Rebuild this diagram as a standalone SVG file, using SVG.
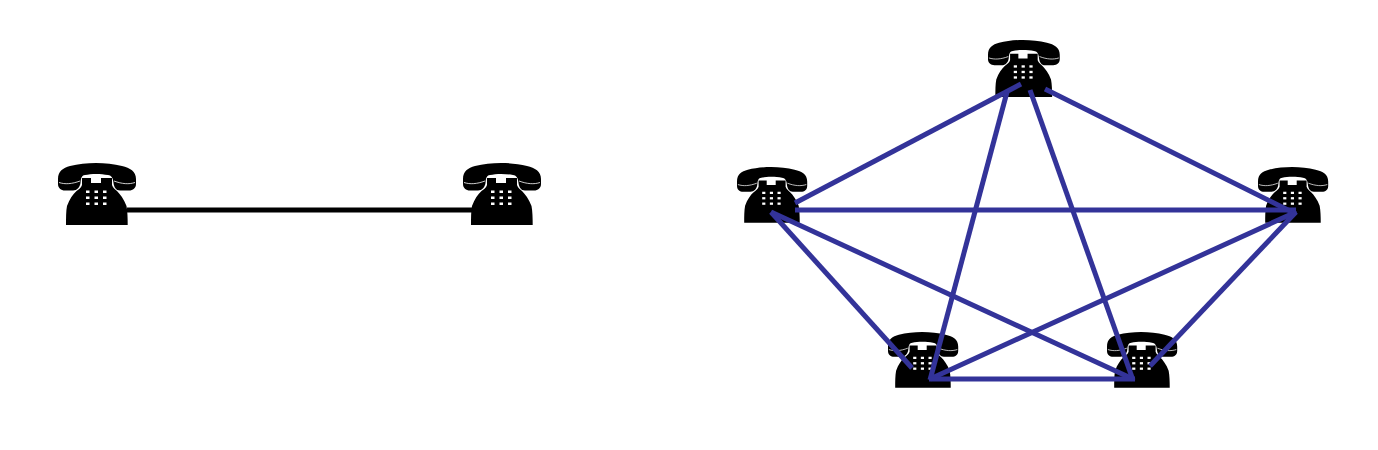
<svg xmlns="http://www.w3.org/2000/svg" xmlns:xlink="http://www.w3.org/1999/xlink" width="1378" height="450" viewBox="0 0 1378 450">
<style>
.k{fill:#000}
.w{fill:#fff}
.s{fill:none;stroke:#fff;stroke-width:.8}
.c{fill:none;stroke:#333399;stroke-width:5;stroke-linecap:butt}
.b{fill:none;stroke:#000;stroke-width:5}
</style>
<defs>
<g id="phone">
<path class="k" d="M0,16 C0,8 5,5 12,3 C20,1 29,0 38,0 C47,0 56,1 64,3 C72,5 78,8 78,16 L78,21 C78,25 75,27.500 71,27.500 L62,27.500 C58,27.500 56,24 55.500,20 C55,14 53,12.500 50,12 C43,10.500 33,10.500 27,12 C24,12.500 23,14 22.500,20 C22,24 19,27.500 15,27.500 L7,27.500 C3,27.500 0,25 0,21Z"/>
<path class="s" d="M1,19.500 C7,21.500 14,21 22,18"/>
<path class="s" d="M77,19.500 C71,21.500 64,21 56,18"/>
<path class="k" d="M24,15 L33,15 L33,20 L43,20 L43,15 L54,15 L54,22 C55,25 57,26 59,28 C62,31 66,36 68.500,43 C69.500,48 69.700,55 69.700,62 L8,62 C8,55 8,48 9,43 C11.500,36 15,31 18.500,28 C21,26 23,25 24,22Z"/>
<g class="w">
<rect x="28" y="27.500" width="3.500" height="2.500"/><rect x="36.500" y="27.500" width="3.500" height="2.500"/><rect x="45" y="27.500" width="3.500" height="2.500"/>
<rect x="28" y="33.500" width="3.500" height="2.500"/><rect x="36.500" y="33.500" width="3.500" height="2.500"/><rect x="45" y="33.500" width="3.500" height="2.500"/>
<rect x="28" y="39.500" width="3.500" height="2.500"/><rect x="36.500" y="39.500" width="3.500" height="2.500"/><rect x="45" y="39.500" width="3.500" height="2.500"/>
</g>
</g>
</defs>
<rect width="1378" height="450" fill="#fff"/>
<g id="phone-a"><use xlink:href="#phone" href="#phone" transform="translate(58,163)"/></g>
<g id="phone-b"><use xlink:href="#phone" href="#phone" transform="translate(463,163)"/></g>
<g id="phone-top"><use xlink:href="#phone" href="#phone" transform="translate(988,40) scale(.92)"/></g>
<g id="phone-left"><use xlink:href="#phone" href="#phone" transform="translate(737,167) scale(.9)"/></g>
<g id="phone-right"><use xlink:href="#phone" href="#phone" transform="translate(1258,167) scale(.9)"/></g>
<g id="phone-bottom-left"><use xlink:href="#phone" href="#phone" transform="translate(888,332) scale(.9)"/></g>
<g id="phone-bottom-right"><use xlink:href="#phone" href="#phone" transform="translate(1107,332) scale(.9)"/></g>
<g id="connectors">
<line class="b" x1="127" y1="210" x2="472" y2="210"/>
<line class="c" x1="795" y1="203" x2="1021" y2="84"/>
<line class="c" x1="1045" y1="89" x2="1296" y2="214"/>
<line class="c" x1="1007" y1="92" x2="930" y2="380"/>
<line class="c" x1="1030" y1="90" x2="1133" y2="380"/>
<line class="c" x1="795" y1="210" x2="1296" y2="210"/>
<line class="c" x1="771" y1="212" x2="1133" y2="379"/>
<line class="c" x1="771" y1="212" x2="912" y2="368"/>
<line class="c" x1="930" y1="379" x2="1296" y2="212"/>
<line class="c" x1="1296" y1="212" x2="1150" y2="366"/>
<line class="c" x1="929" y1="379" x2="1135" y2="379"/>
</g>
</svg>
